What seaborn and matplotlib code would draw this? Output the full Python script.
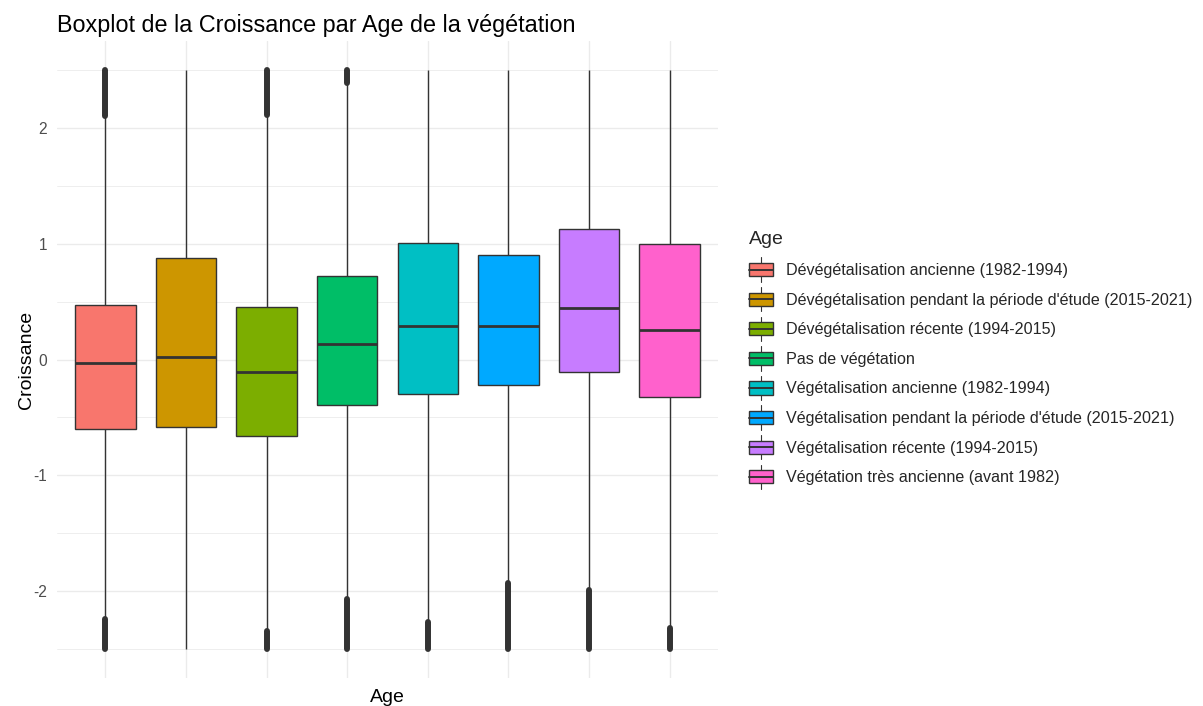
import numpy as np
import pandas as pd
import matplotlib
matplotlib.use("Agg")
import matplotlib.pyplot as plt
from matplotlib.patches import Rectangle, Patch
from matplotlib.lines import Line2D
from matplotlib.legend_handler import HandlerBase
from matplotlib.ticker import MultipleLocator
import seaborn as sns

# ---------------- data ----------------
categories = [
    "Dévégétalisation ancienne (1982-1994)",
    "Dévégétalisation pendant la période d'étude (2015-2021)",
    "Dévégétalisation récente (1994-2015)",
    "Pas de végétation",
    "Végétalisation ancienne (1982-1994)",
    "Végétalisation pendant la période d'étude (2015-2021)",
    "Végétalisation récente (1994-2015)",
    "Végétation très ancienne (avant 1982)",
]
colors = ["#F8766D", "#CD9600", "#7CAE00", "#00BE67",
          "#00BFC4", "#00A9FF", "#C77CFF", "#FF61CC"]

whisker_low = [-2.24, -2.50, -2.34, -2.07, -2.27, -1.93, -1.99, -2.32]
q1 = [-0.600, -0.583, -0.661, -0.390, -0.297, -0.220, -0.105, -0.323]
median = [-0.034, 0.020, -0.112, 0.132, 0.289, 0.289, 0.446, 0.255]
q3 = [0.474, 0.877, 0.451, 0.721, 1.005, 0.906, 1.128, 0.994]
whisker_high = [2.10, 2.50, 2.11, 2.39, 2.50, 2.50, 2.50, 2.50]
data_min = [-2.5, -2.5, -2.5, -2.5, -2.5, -2.5, -2.5, -2.5]
data_max = [2.5, 2.5, 2.5, 2.5, 2.5, 2.5, 2.5, 2.5]

y_ticks = [-2, -1, 0, 1, 2]
y_ticklabels = ["-2", "-1", "0", "1", "2"]

title = "Boxplot de la Croissance par Age de la végétation"
x_label = "Age"
y_label = "Croissance"
legend_title = "Age"

# five-number summary table per category
rows = []
for cat, a, b, c, d, e in zip(categories, whisker_low, q1, median, q3, whisker_high):
    for v in (a, b, c, d, e):
        rows.append({"Age": cat, "Croissance": v})
df = pd.DataFrame(rows)

# ---------------- style ----------------
sns.set_theme(style="white")
plt.rcParams["font.family"] = ["Liberation Sans", "DejaVu Sans"]
plt.rcParams["axes.unicode_minus"] = False

W, H = 1203, 706
fig = plt.figure(figsize=(W / 100, H / 100), dpi=100)
ax_l, ax_r, ax_t, ax_b = 57, 718, 41, 678
ax = fig.add_axes([ax_l / W, 1 - ax_b / H, (ax_r - ax_l) / W, (ax_b - ax_t) / H])

EDGE = "#333333"
sns.boxplot(
    data=df, x="Age", y="Croissance", hue="Age",
    order=categories, hue_order=categories, palette=colors,
    dodge=False, whis=np.inf, width=0.75, saturation=1,
    linewidth=1.0, linecolor=EDGE, showcaps=False, fliersize=0,
    medianprops=dict(linewidth=2.0, color=EDGE),
    whiskerprops=dict(linewidth=1.0, color=EDGE),
    boxprops=dict(edgecolor=EDGE, linewidth=1.0),
    legend=False, ax=ax,
)

# dense outliers (appear as thick bars)
for i in range(len(categories)):
    if whisker_high[i] < data_max[i]:
        ax.plot([i, i], [whisker_high[i], data_max[i]], color=EDGE, lw=4.3,
                solid_capstyle="round", zorder=4)
    if whisker_low[i] > data_min[i]:
        ax.plot([i, i], [data_min[i], whisker_low[i]], color=EDGE, lw=4.3,
                solid_capstyle="round", zorder=4)

ax.set_xlim(-0.6, len(categories) - 0.4)
ax.set_ylim(-2.75, 2.75)
ax.set_yticks(y_ticks)
ax.set_yticklabels(y_ticklabels)
ax.yaxis.set_minor_locator(MultipleLocator(0.5))
ax.set_axisbelow(True)
ax.grid(which="major", axis="both", color="#EBEBEB", lw=1.0)
ax.grid(which="minor", axis="y", color="#EBEBEB", lw=0.6)
for s in ax.spines.values():
    s.set_visible(False)
ax.tick_params(axis="both", which="both", length=0)
ax.tick_params(axis="x", labelbottom=False)
ax.tick_params(axis="y", labelsize=11.2, labelcolor="#4D4D4D", pad=7)

ax.set_xlabel(x_label, fontsize=14, color="black")
ax.xaxis.set_label_coords(0.5, -(697.5 - ax_b) / (ax_b - ax_t))
ax.xaxis.label.set_va("center")
ax.set_ylabel(y_label, fontsize=14, color="black")
ax.yaxis.set_label_coords(-(ax_l - 26.5) / (ax_r - ax_l), 0.5)
ax.yaxis.label.set_va("center")

fig.text(ax_l / W, 1 - 32 / H, title, fontsize=16.85, color="black",
         ha="left", va="baseline")

# ---------------- legend ----------------
class BoxKey(HandlerBase):
    def create_artists(self, legend, orig_handle, xdescent, ydescent,
                       width, height, fontsize, trans):
        fc = orig_handle.get_facecolor()
        x0, y0 = -xdescent, -ydescent
        cx, cy = x0 + width / 2, y0 + height / 2
        bh, wh = 9.4, 8.8
        rect = Rectangle((x0, cy - bh / 2), width, bh, facecolor=fc,
                         edgecolor=EDGE, lw=1.0, transform=trans)
        med = Line2D([x0, x0 + width], [cy, cy], color=EDGE, lw=1.4,
                     transform=trans)
        w_up = Line2D([cx, cx], [cy + bh / 2, cy + wh], color=EDGE, lw=0.8,
                      transform=trans)
        w_dn = Line2D([cx, cx], [cy - wh, cy - bh / 2], color=EDGE, lw=0.8,
                      transform=trans)
        return [w_up, w_dn, rect, med]

handles = [Patch(facecolor=c, edgecolor=EDGE, label=l)
           for c, l in zip(colors, categories)]
leg = ax.legend(
    handles=handles, labels=categories, handler_map={Patch: BoxKey()},
    loc="upper left", bbox_to_anchor=(748.5 / W, 1 - 231.5 / H),
    bbox_transform=fig.transFigure, frameon=False, fontsize=11.6,
    title=legend_title, title_fontsize=14, alignment="left",
    handlelength=1.5, handleheight=1.2, labelspacing=0.8,
    handletextpad=0.85, borderpad=0, borderaxespad=0,
)

fig.savefig("out.png", dpi=100)
